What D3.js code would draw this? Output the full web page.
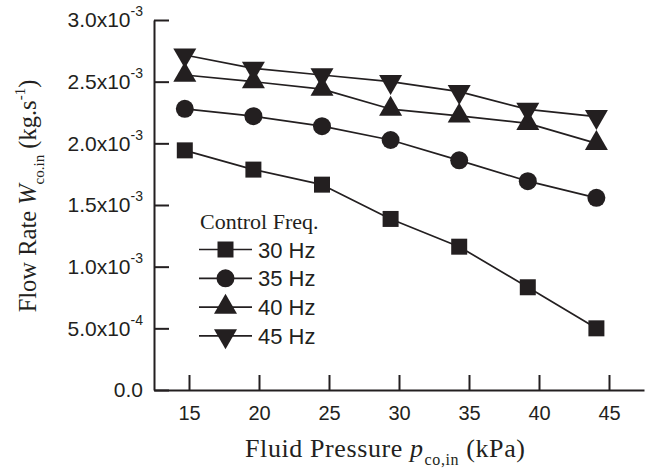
<!DOCTYPE html>
<html>
<head>
<meta charset="utf-8">
<script src="https://cdn.jsdelivr.net/npm/d3@7"></script>
<style>
  html, body { margin: 0; padding: 0; background: #fff; }
  svg { display: block; }
</style>
</head>
<body>
<div id="chart"></div>
<script>
// data
var pressure = [14.7, 19.6, 24.5, 29.4, 34.3, 39.2, 44.1];
var flow30 = [1.943e-3, 1.787e-3, 1.665e-3, 1.387e-3, 1.162e-3, 0.833e-3, 0.500e-3];
var flow35 = [2.280e-3, 2.220e-3, 2.139e-3, 2.027e-3, 1.862e-3, 1.693e-3, 1.558e-3];
var flow40 = [2.554e-3, 2.500e-3, 2.440e-3, 2.278e-3, 2.222e-3, 2.162e-3, 2.000e-3];
var flow45 = [2.716e-3, 2.608e-3, 2.554e-3, 2.500e-3, 2.419e-3, 2.275e-3, 2.216e-3];
var seriesNames = ["30 Hz", "35 Hz", "40 Hz", "45 Hz"];
var xTicks = [15, 20, 25, 30, 35, 40, 45];
var yTicks = [0, 0.5e-3, 1.0e-3, 1.5e-3, 2.0e-3, 2.5e-3, 3.0e-3];
var yTickMant = ["0.0", "5.0", "1.0", "1.5", "2.0", "2.5", "3.0"];
var yTickExp = ["", "-4", "-3", "-3", "-3", "-3", "-3"];

var ink = "#231f20";
var W = 652, H = 471;
var margin = {top: 20, right: 8, bottom: 81, left: 154};

var svg = d3.select("#chart").append("svg")
    .attr("width", W)
    .attr("height", H);

// set the ranges
var xScale = d3.scaleLinear().domain([12.5, 47.5]).range([margin.left, margin.left + 490]);
var yScale = d3.scaleLinear().domain([0, 3.0e-3]).range([H - margin.bottom, margin.top]);

// symbols: square, circle, up triangle, down triangle
var symbols = [
  {type: d3.symbolSquare, size: 256, rot: 0},
  {type: d3.symbolCircle, size: 254, rot: 0},
  {type: d3.symbolTriangle, size: 229, rot: 0},
  {type: d3.symbolTriangle, size: 229, rot: 180}
];

var series = [flow30, flow35, flow40, flow45].map(function(vals, i) {
  return {name: seriesNames[i], sym: symbols[i], points: vals.map(function(v, j) { return [pressure[j], v]; })};
});

// axes
var xAxis = svg.append("g")
    .attr("transform", "translate(0," + yScale(0) + ")")
    .call(d3.axisBottom(xScale).tickValues(xTicks).tickSizeInner(-15).tickSizeOuter(0).tickPadding(16));

var yAxis = svg.append("g")
    .attr("transform", "translate(" + margin.left + ",0)")
    .call(d3.axisLeft(yScale).tickValues(yTicks).tickSizeInner(-15).tickSizeOuter(0).tickPadding(11)
      .tickFormat(function() { return ""; }));

svg.selectAll(".domain, .tick line")
    .attr("stroke", ink)
    .attr("stroke-width", 2);

xAxis.selectAll("text")
    .attr("fill", ink)
    .style("font-family", "Arial, 'Liberation Sans', sans-serif")
    .style("font-size", "20px");

yAxis.selectAll(".tick text").each(function(d, i) {
  var t = d3.select(this)
      .attr("fill", ink)
      .style("font-family", "Arial, 'Liberation Sans', sans-serif")
      .style("font-size", "21px");
  t.text(null);
  if (yTickExp[i]) {
    t.append("tspan").text(yTickMant[i] + "x10");
    t.append("tspan").attr("dy", -11).style("font-size", "14px").text(yTickExp[i]);
  } else {
    t.append("tspan").text(yTickMant[i]);
  }
});

// lines
var valueline = d3.line()
    .x(function(d) { return xScale(d[0]); })
    .y(function(d) { return yScale(d[1]); });

series.forEach(function(s) {
  svg.append("path")
      .datum(s.points)
      .attr("fill", "none")
      .attr("stroke", ink)
      .attr("stroke-width", 1.7)
      .attr("stroke-linejoin", "round")
      .attr("d", valueline);
});

series.forEach(function(s) {
  svg.selectAll(null)
      .data(s.points)
      .enter()
    .append("path")
      .attr("transform", function(d) {
        return "translate(" + xScale(d[0]) + "," + yScale(d[1]) + ") rotate(" + s.sym.rot + ")";
      })
      .attr("d", d3.symbol().type(s.sym.type).size(s.sym.size))
      .attr("fill", ink);
});

// legend
var legend = svg.append("g").attr("transform", "translate(199,0)");
legend.append("text")
    .attr("x", 1)
    .attr("y", 229)
    .attr("fill", ink)
    .style("font-family", "'Times New Roman', 'Liberation Serif', serif")
    .style("font-size", "22px")
    .text("Control Freq.");

series.forEach(function(s, i) {
  var ly = 249.5 + i * 28.8;
  var row = legend.append("g").attr("transform", "translate(0," + ly + ")");
  row.append("line")
      .attr("x1", 0).attr("x2", 53)
      .attr("stroke", ink)
      .attr("stroke-width", 1.7);
  row.append("path")
      .attr("transform", "translate(26.5,0) rotate(" + s.sym.rot + ")")
      .attr("d", d3.symbol().type(s.sym.type).size(s.sym.size))
      .attr("fill", ink);
  row.append("text")
      .attr("x", 59)
      .attr("y", 8)
      .attr("fill", ink)
      .style("font-family", "Arial, 'Liberation Sans', sans-serif")
      .style("font-size", "22px")
      .text(s.name);
});

// x axis title
var xt = svg.append("text")
    .attr("x", 245)
    .attr("y", 457)
    .attr("fill", ink)
    .style("font-family", "'Times New Roman', 'Liberation Serif', serif")
    .style("font-size", "26px")
    .style("letter-spacing", "0.6px");
xt.append("tspan").text("Fluid Pressure ");
xt.append("tspan").style("font-style", "italic").text("p");
xt.append("tspan").attr("dy", 8).attr("dx", 1).style("font-size", "16px").text("co,in");
xt.append("tspan").attr("dy", -8).text(" (kPa)");

// y axis title
var yt = svg.append("text")
    .attr("transform", "translate(36,196) rotate(-90)")
    .attr("text-anchor", "middle")
    .attr("fill", ink)
    .style("font-family", "'Times New Roman', 'Liberation Serif', serif")
    .style("font-size", "24.5px");
yt.append("tspan").text("Flow Rate ");
yt.append("tspan").style("font-style", "italic").text("W");
yt.append("tspan").attr("dy", 8).style("font-size", "15px").text("co.in");
yt.append("tspan").attr("dy", -8).text(" (kg.s");
yt.append("tspan").attr("dy", -11).style("font-size", "15px").text("-1");
yt.append("tspan").attr("dy", 11).text(")");
</script>
</body>
</html>
